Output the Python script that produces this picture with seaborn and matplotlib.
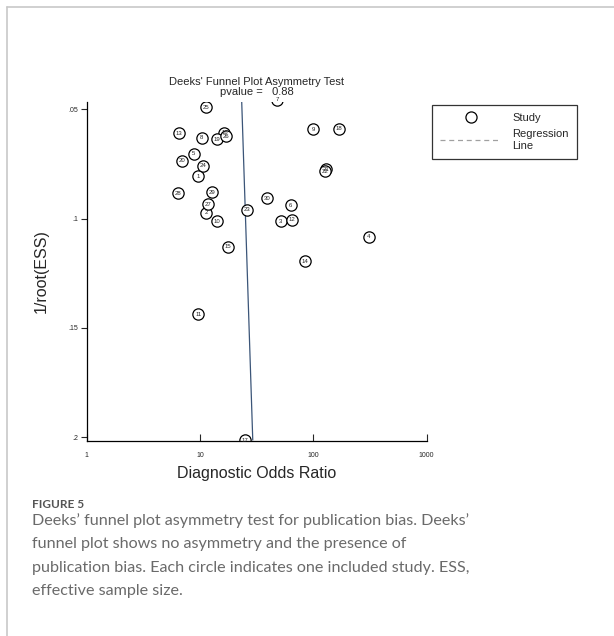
import matplotlib
matplotlib.use('Agg')
import matplotlib.pyplot as plt
from matplotlib.lines import Line2D
import seaborn as sns
import pandas as pd

# Study values
study = [1, 2, 3, 4, 5, 6, 7, 8, 9, 10, 11, 12, 13, 14, 15,
         16, 17, 18, 19, 20, 21, 22, 23, 24, 25, 26, 27, 28, 29, 30]
dor = [9.6, 11.3, 51.5, 308, 8.8, 63.1, 48.1, 10.35, 100, 14.0, 9.66, 65.3, 6.53, 84, 17.7,
       16.4, 25.1, 169.5, 14.0, 6.98, 129.4, 127, 26.0, 10.7, 11.2, 16.97, 11.8, 6.36, 12.7, 39.3]
inv_root_ess = [0.0806, 0.0973, 0.1012, 0.1084, 0.0704, 0.0938, 0.0457, 0.0630, 0.0592, 0.1012,
                0.1438, 0.1005, 0.0610, 0.1194, 0.1129, 0.0607, 0.2013, 0.0589, 0.0637, 0.0735,
                0.0775, 0.0784, 0.0959, 0.0759, 0.0491, 0.0622, 0.0935, 0.0883, 0.0880, 0.0907]

# Regression line end points
reg_dor = [23.3, 29.2]
reg_y = [0.0457, 0.2013]

y_ticks = [0.05, 0.1, 0.15, 0.2]
y_tick_labels = ['.05', '.1', '.15', '.2']
x_ticks = [1, 10, 100, 1000]
x_tick_labels = ['1', '10', '100', '1000']

df = pd.DataFrame({'Study': study, 'DOR': dor, 'InvRootESS': inv_root_ess})

sns.set_style('white')
plt.rcParams['font.family'] = ['Liberation Sans', 'DejaVu Sans']

fig = plt.figure(figsize=(6.14, 6.36), dpi=100)
ax = fig.add_axes([0.1412, 0.3071, 0.5537, 0.533])

# Regression line
sns.lineplot(x=reg_dor, y=reg_y, ax=ax, sort=False, color='#3b5578', lw=0.9, zorder=1)

# Studies
sns.scatterplot(data=df, x='DOR', y='InvRootESS', ax=ax, s=66, color='white',
                edgecolor='black', linewidth=0.9, zorder=2)
for _, r in df.iterrows():
    ax.text(r['DOR'], r['InvRootESS'], str(int(r['Study'])), ha='center', va='center',
            fontsize=4.3, zorder=3)

ax.set_xscale('log')
ax.set_xlim(1, 1000)
ax.set_ylim(0.2016, 0.0465)
ax.set_xticks(x_ticks)
ax.set_xticklabels(x_tick_labels)
ax.set_yticks(y_ticks)
ax.set_yticklabels(y_tick_labels)
ax.minorticks_off()
ax.tick_params(axis='x', direction='in', length=5, width=0.8, pad=8, labelsize=5)
ax.tick_params(axis='y', direction='out', length=4, width=0.8, pad=2, labelsize=5)
ax.xaxis.set_ticks_position('bottom')
ax.yaxis.set_ticks_position('left')

sns.despine(ax=ax)
for s in ['left', 'bottom']:
    ax.spines[s].set_linewidth(0.9)
    ax.spines[s].set_color('black')

ax.set_xlabel('Diagnostic Odds Ratio', fontsize=11.5, labelpad=5)
ax.set_ylabel('1/root(ESS)', fontsize=11.5, labelpad=14)
ax.set_title("Deeks' Funnel Plot Asymmetry Test\npvalue =   0.88", fontsize=8,
             pad=5, linespacing=0.95)

# Legend
handles = [Line2D([], [], marker='o', linestyle='none', markerfacecolor='white',
                  markeredgecolor='black', markersize=8, markeredgewidth=0.9),
           Line2D([], [], color='#a0a0a0', linestyle=(0, (4, 3)), lw=0.9)]
leg = fig.legend(handles, ['Study', 'Regression\nLine'], loc='upper left',
                 bbox_to_anchor=(432 / 614, 1 - 105 / 636), borderaxespad=0, fontsize=8,
                 frameon=True, fancybox=False, edgecolor='black', handlelength=5.5,
                 handletextpad=1.0, borderpad=0.75, labelspacing=0.55)
leg.get_frame().set_linewidth(0.9)
for t in leg.get_texts():
    t.set_linespacing(1.2)

# Page frame lines
fig.add_artist(Line2D([7 / 614, 1], [1 - 7 / 636, 1 - 7 / 636], transform=fig.transFigure,
                      color='#c8c8c8', lw=1.2))
fig.add_artist(Line2D([7 / 614, 7 / 614], [0, 1 - 7 / 636], transform=fig.transFigure,
                      color='#c8c8c8', lw=1.2))

# Caption
fig.text(32 / 614, 1 - 504 / 636, 'FIGURE 5', fontsize=8.5, color='#555555',
         family=['Lato', 'DejaVu Sans'], fontweight='bold', va='center')
caption = ["Deeks\u2019 funnel plot asymmetry test for publication bias. Deeks\u2019",
           "funnel plot shows no asymmetry and the presence of",
           "publication bias. Each circle indicates one included study. ESS,",
           "effective sample size."]
for i, line in enumerate(caption):
    fig.text(32 / 614, 1 - (521 + i * 23.3) / 636, line, fontsize=11.6, color='#6a6a6a',
             family=['Lato', 'DejaVu Sans'], va='center')

fig.savefig('out.png', dpi=100)
